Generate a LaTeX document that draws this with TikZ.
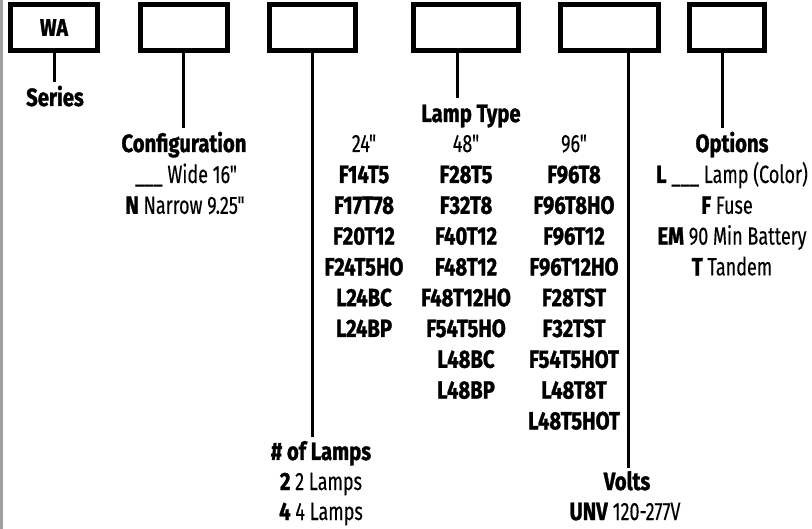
\documentclass[tikz,border=0pt]{standalone}
\usepackage{fontspec}
\newfontfamily\specfont{Fira Sans}[UprightFeatures={FakeStretch=0.72,FakeBold=0.3},BoldFeatures={FakeStretch=0.81,FakeBold=1.2}]

\begin{document}
\begin{tikzpicture}[x=1pt,y=-1pt,
    codebox/.style={draw,line width=5pt,minimum width=#1,minimum height=46pt,inner sep=0pt,font=\specfont\fontsize{24}{28}\selectfont\bfseries},
    lead/.style={line width=3pt},
    txt/.style={anchor=base,inner sep=0pt,font=\specfont\fontsize{25}{30}\selectfont}]
        \useasboundingbox (0,0) rectangle (812,529);
        \fill[gray!75] (0,0) rectangle (3,529);
        % code boxes
        \node[codebox=87]   (b1) at (54,27.5)    {WA};
        \node[codebox=87.5] (b2) at (184,27.5)   {};
        \node[codebox=86]   (b3) at (312.5,27.5) {};
        \node[codebox=105]  (b4) at (466,27.5)   {};
        \node[codebox=98]   (b5) at (609.5,27.5) {};
        \node[codebox=75]   (b6) at (727,27.5)   {};
        % lead ends
        \coordinate (e1) at (54,82);
        \coordinate (e2) at (183,128);
        \coordinate (e3) at (312,437);
        \coordinate (e4) at (457,98);
        \coordinate (e5) at (628,468);
        \coordinate (e6) at (722,128);
        \draw[lead] (b1.south -| e1) -- (e1);
        \draw[lead] (b2.south -| e2) -- (e2);
        \draw[lead] (b3.south -| e3) -- (e3);
        \draw[lead] (b4.south -| e4) -- (e4);
        \draw[lead] (b5.south -| e5) -- (e5);
        \draw[lead] (b6.south -| e6) -- (e6);
        % series
        \node[txt] (series) at (55,106) {\textbf{Series}};
        % configuration
        \node[txt] (config) at (184,152)   {\textbf{Configuration}};
        \node[txt] (wide)   at (186,183)   {\_\_\_ Wide 16"};
        \node[txt] (narrow) at (185,213.8) {\textbf{N} Narrow 9.25"};
        % lamp type
        \node[txt] (ltype) at (471,122) {\textbf{Lamp Type}};
        \node[txt] (h24) at (364,152) {24"};
        \node[txt] (h48) at (466,152) {48"};
        \node[txt] (h96) at (574,152) {96"};
        \node[txt] (a1) at (364,183)   {\textbf{F14T5}};
        \node[txt] (a2) at (364,213.8) {\textbf{F17T78}};
        \node[txt] (a3) at (364,244.6) {\textbf{F20T12}};
        \node[txt] (a4) at (364,275.4) {\textbf{F24T5HO}};
        \node[txt] (a5) at (364,306.2) {\textbf{L24BC}};
        \node[txt] (a6) at (364,337)   {\textbf{L24BP}};
        \node[txt] (m1) at (466,183)   {\textbf{F28T5}};
        \node[txt] (m2) at (466,213.8) {\textbf{F32T8}};
        \node[txt] (m3) at (466,244.6) {\textbf{F40T12}};
        \node[txt] (m4) at (466,275.4) {\textbf{F48T12}};
        \node[txt] (m5) at (466,306.2) {\textbf{F48T12HO}};
        \node[txt] (m6) at (466,337)   {\textbf{F54T5HO}};
        \node[txt] (m7) at (466,367.8) {\textbf{L48BC}};
        \node[txt] (m8) at (466,398.6) {\textbf{L48BP}};
        \node[txt] (w1) at (574,183)   {\textbf{F96T8}};
        \node[txt] (w2) at (574,213.8) {\textbf{F96T8HO}};
        \node[txt] (w3) at (574,244.6) {\textbf{F96T12}};
        \node[txt] (w4) at (574,275.4) {\textbf{F96T12HO}};
        \node[txt] (w5) at (574,306.2) {\textbf{F28TST}};
        \node[txt] (w6) at (574,337)   {\textbf{F32TST}};
        \node[txt] (w7) at (574,367.8) {\textbf{F54T5HOT}};
        \node[txt] (w8) at (574,398.6) {\textbf{L48T8T}};
        \node[txt] (w9) at (574,429.4) {\textbf{L48T5HOT}};
        % options
        \node[txt] (opts) at (732,152)   {\textbf{Options}};
        \node[txt] (o1)   at (732,183)   {\textbf{L} \_\_\_ Lamp (Color)};
        \node[txt] (o2)   at (727,213.8) {\textbf{F} Fuse};
        \node[txt] (o3)   at (732,244.6) {\textbf{EM} 90 Min Battery};
        \node[txt] (o4)   at (732,275.4) {\textbf{T} Tandem};
        % number of lamps
        \node[txt] (nlamps) at (321,460) {\textbf{\# of Lamps}};
        \node[txt] (n2)     at (321,490) {\textbf{2} 2 Lamps};
        \node[txt] (n4)     at (321,520) {\textbf{4} 4 Lamps};
        % volts
        \node[txt] (volts) at (627,490) {\textbf{Volts}};
        \node[txt] (unv)   at (625,520) {\textbf{UNV} 120-277V};
      \end{tikzpicture}
\end{document}
